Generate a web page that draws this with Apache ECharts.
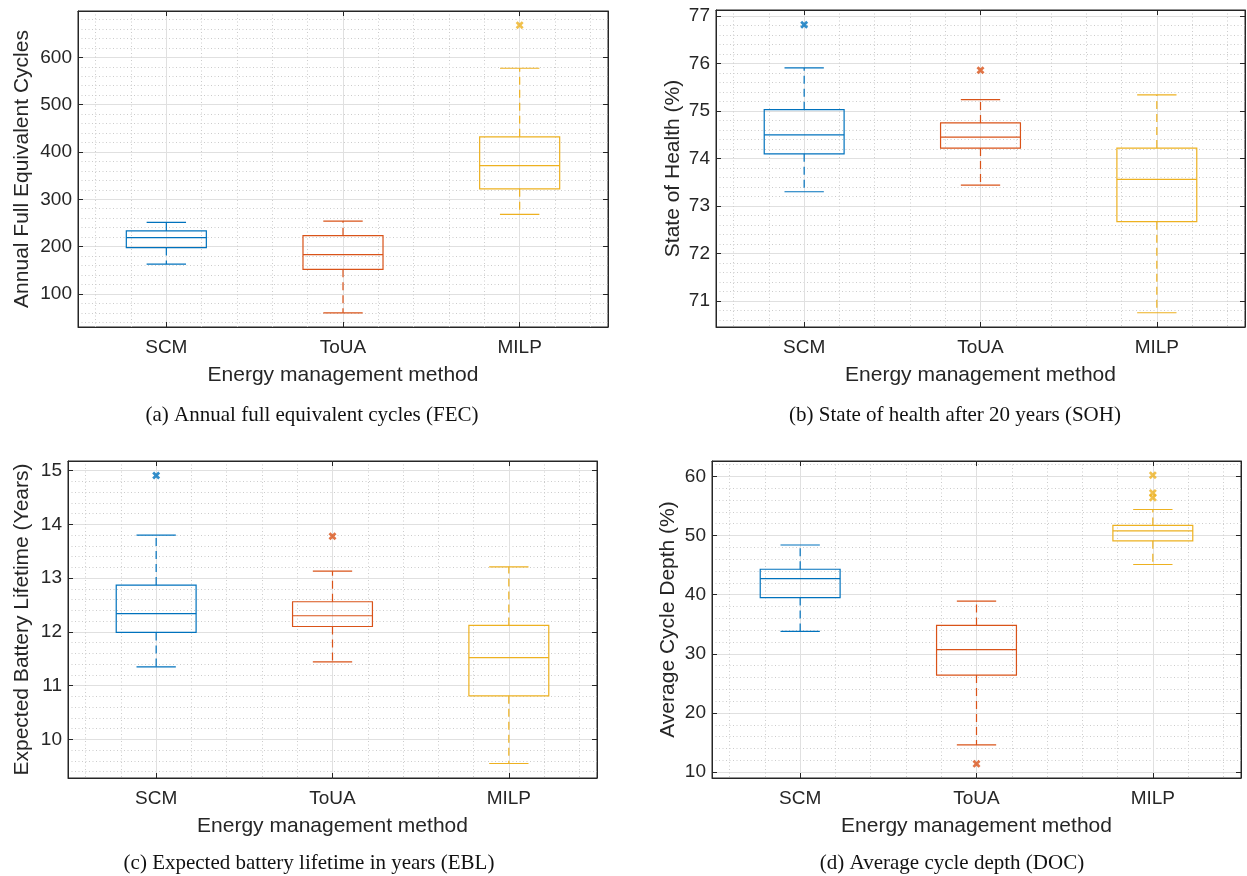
<!DOCTYPE html>
<html>
<head>
<meta charset="utf-8">
<title>Energy management boxplots</title>
<script src="https://cdn.jsdelivr.net/npm/echarts@6/dist/echarts.min.js"></script>
<style>
html, body { margin: 0; padding: 0; background: #fff; }
#chart { width: 1247px; height: 876px; }
</style>
</head>
<body>
<div id="chart"></div>
<script>
const methods = ['SCM', 'ToUA', 'MILP'];
// each box: [lower whisker, Q1, median, Q3, upper whisker]
const fecBoxes = [[163, 198, 219, 233, 251], [60, 152, 183, 223, 254], [268, 322, 371, 432, 577]];
const fecOutliers = [[2, 668]];
const sohBoxes = [[73.30, 74.10, 74.50, 75.03, 75.91], [73.44, 74.22, 74.45, 74.75, 75.24], [70.75, 72.67, 73.56, 74.22, 75.34]];
const sohOutliers = [[0, 76.82], [1, 75.86]];
const eblBoxes = [[11.35, 11.99, 12.34, 12.87, 13.80], [11.44, 12.10, 12.30, 12.56, 13.13], [9.55, 10.81, 11.52, 12.12, 13.21]];
const eblOutliers = [[0, 14.91], [1, 13.78]];
const docBoxes = [[33.8, 39.5, 42.7, 44.3, 48.4], [14.6, 26.4, 30.7, 34.8, 38.9], [45.1, 49.1, 50.8, 51.7, 54.4]];
const docOutliers = [[1, 11.4], [2, 60.2], [2, 57.2], [2, 56.4]];

const colors = ['#0072BD', '#D95319', '#EDB120'];
const axisColor = '#262626';
const sans = '"Liberation Sans", Arial, sans-serif';
const serif = '"Liberation Serif", "Times New Roman", serif';
const xMark = 'path://M0,2.4L2.4,0L5,2.6L7.6,0L10,2.4L7.4,5L10,7.6L7.6,10L5,7.4L2.4,10L0,7.6L2.6,5Z';

const panels = [
  { boxes: fecBoxes, outliers: fecOutliers, yName: 'Annual Full Equivalent Cycles', yMin: 30, yMax: 698,
    caption: '(a) Annual full equivalent cycles (FEC)', left: 78, top: 11, width: 530, height: 316, nameGap: 45, capX: 312, capY: 415 },
  { boxes: sohBoxes, outliers: sohOutliers, yName: 'State of Health (%)', yMin: 70.45, yMax: 77.13,
    caption: '(b) State of health after 20 years (SOH)', left: 716, top: 10, width: 529, height: 317, nameGap: 32, capX: 955, capY: 415 },
  { boxes: eblBoxes, outliers: eblOutliers, yName: 'Expected Battery Lifetime (Years)', yMin: 9.28, yMax: 15.18,
    caption: '(c) Expected battery lifetime in years (EBL)', left: 68, top: 461, width: 529, height: 317, nameGap: 35, capX: 309, capY: 863 },
  { boxes: docBoxes, outliers: docOutliers, yName: 'Average Cycle Depth (%)', yMin: 9, yMax: 62.6,
    caption: '(d) Average cycle depth (DOC)', left: 712, top: 461, width: 529, height: 317, nameGap: 33, capX: 952, capY: 863 }
];

function renderBox(params, api) {
  const k = api.value(0);
  const band = api.size([1, 0])[0];
  const bw = band * 0.453;
  const cw = band * 0.223;
  const lo = api.coord([k, api.value(1)]);
  const q1 = api.coord([k, api.value(2)]);
  const md = api.coord([k, api.value(3)]);
  const q3 = api.coord([k, api.value(4)]);
  const hi = api.coord([k, api.value(5)]);
  const cx = lo[0];
  const c = colors[k];
  const solid = { stroke: c, lineWidth: 1.2, fill: null };
  const dashed = { stroke: c, lineWidth: 1.2, lineDash: [8, 5], fill: null };
  return {
    type: 'group',
    children: [
      { type: 'line', shape: { x1: cx, y1: q3[1], x2: cx, y2: hi[1] }, style: dashed },
      { type: 'line', shape: { x1: cx, y1: q1[1], x2: cx, y2: lo[1] }, style: dashed },
      { type: 'line', shape: { x1: cx - cw / 2, y1: hi[1], x2: cx + cw / 2, y2: hi[1] }, style: solid },
      { type: 'line', shape: { x1: cx - cw / 2, y1: lo[1], x2: cx + cw / 2, y2: lo[1] }, style: solid },
      { type: 'rect', shape: { x: cx - bw / 2, y: q3[1], width: bw, height: q1[1] - q3[1] }, style: solid },
      { type: 'line', shape: { x1: cx - bw / 2, y1: md[1], x2: cx + bw / 2, y2: md[1] }, style: solid }
    ]
  };
}

const grid = [], xAxis = [], yAxis = [], series = [], graphic = [];
const tickStyle = { show: true, inside: true, length: 5, lineStyle: { color: axisColor } };
const majorLine = { show: true, showMinLine: false, showMaxLine: false, lineStyle: { color: '#e0e0e0', width: 1 } };
const minorLine = { show: true, lineStyle: { color: '#cccccc', width: 1, type: [1, 2.5] } };

panels.forEach((p, i) => {
  grid.push({ left: p.left, top: p.top, width: p.width, height: p.height, show: true, borderColor: axisColor, borderWidth: 1, backgroundColor: '#fff' });
  xAxis.push({
    type: 'category', gridIndex: i, data: methods, position: 'bottom',
    name: 'Energy management method', nameLocation: 'middle', nameGap: 38,
    nameTextStyle: { fontSize: 21, color: axisColor, fontFamily: sans },
    axisLine: { show: true, lineStyle: { color: axisColor } },
    axisTick: Object.assign({ alignWithLabel: true }, tickStyle),
    axisLabel: { fontSize: 19, color: axisColor, fontFamily: sans, margin: 11 },
    splitLine: { show: false }
  });
  xAxis.push({
    type: 'value', gridIndex: i, min: 0.5, max: 3.5, splitNumber: 3, position: 'top',
    axisLine: { show: true, lineStyle: { color: axisColor } },
    axisTick: tickStyle, axisLabel: { show: false },
    splitLine: majorLine, minorSplitLine: minorLine
  });
  yAxis.push({
    type: 'value', gridIndex: i, min: p.yMin, max: p.yMax, position: 'left',
    name: p.yName, nameLocation: 'middle', nameRotate: 90, nameGap: p.nameGap,
    nameTextStyle: { fontSize: 21, color: axisColor, fontFamily: sans },
    axisLine: { show: true, lineStyle: { color: axisColor } },
    axisTick: tickStyle,
    axisLabel: { fontSize: 19, color: axisColor, fontFamily: sans, margin: 6, showMinLabel: false, showMaxLabel: false },
    splitLine: majorLine, minorSplitLine: minorLine
  });
  yAxis.push({
    type: 'value', gridIndex: i, min: p.yMin, max: p.yMax, position: 'right',
    axisLine: { show: true, lineStyle: { color: axisColor } },
    axisTick: tickStyle, axisLabel: { show: false }, splitLine: { show: false }
  });
  series.push({
    type: 'custom', xAxisIndex: 2 * i, yAxisIndex: 2 * i, renderItem: renderBox,
    encode: { x: 0, y: [1, 2, 3, 4, 5] },
    data: p.boxes.map((b, k) => [k].concat(b)), z: 3
  });
  series.push({
    type: 'scatter', xAxisIndex: 2 * i, yAxisIndex: 2 * i, symbol: xMark, symbolSize: 8, z: 4,
    data: p.outliers.map(o => ({ value: o, itemStyle: { color: colors[o[0]] } }))
  });
  graphic.push({
    type: 'text', x: p.capX, y: p.capY,
    style: { text: p.caption, font: '21px ' + serif, fill: '#111', align: 'center', verticalAlign: 'middle', textAlign: 'center', textVerticalAlign: 'middle' }
  });
});

const chart = echarts.init(document.getElementById('chart'), null, { renderer: 'canvas' });
chart.setOption({
  animation: false,
  backgroundColor: '#fff',
  grid, xAxis, yAxis, series, graphic
});
</script>
</body>
</html>
